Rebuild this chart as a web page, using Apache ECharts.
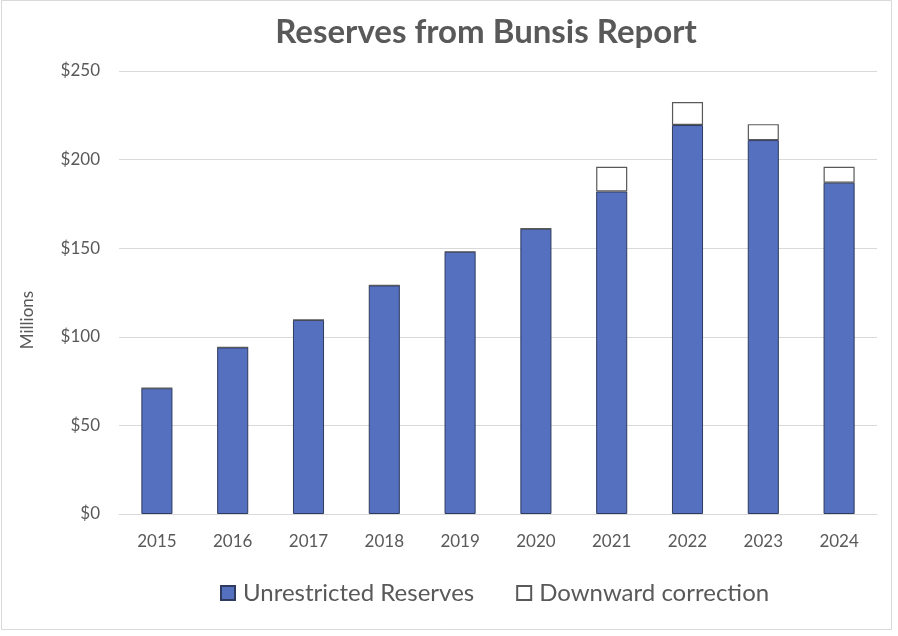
<!DOCTYPE html>
<html>
<head>
<meta charset="utf-8">
<script src="https://cdn.jsdelivr.net/npm/echarts@6/dist/echarts.min.js"></script>
<style>html,body{margin:0;padding:0;background:#fff}#c{width:898px;height:636px}</style>
</head>
<body>
<div id="c"></div>
<script>
const years = ['2015','2016','2017','2018','2019','2020','2021','2022','2023','2024'];
const unrestricted = [71, 94, 109.5, 129, 148, 161, 182, 219.5, 211, 187];
const correction = [0, 0, 0, 0, 0, 0, 14, 13, 9, 9];
const yTicks = [0, 50, 100, 150, 200, 250];

const chart = echarts.init(document.getElementById('c'), null, {renderer: 'canvas'});
const font = 'Lato, "Open Sans", sans-serif';
chart.setOption({
  animation: false,
  backgroundColor: '#fff',
  title: {
    text: 'Reserves from Bunsis Report',
    left: 481, top: 11, textAlign: 'center',
    textStyle: {fontFamily: font, fontWeight: 'bold', fontSize: 33, color: '#595959'}
  },
  graphic: [
    {type: 'rect', shape: {x: 1.5, y: 0.5, width: 890, height: 629}, style: {fill: 'none', stroke: '#d9d9d9', lineWidth: 1}},
    {type: 'text', x: 28, y: 320, rotation: Math.PI / 2,
     style: {text: 'Millions', fill: '#595959', font: '17px ' + font, textAlign: 'center', textVerticalAlign: 'middle'}}
  ],
  legend: {
    data: ['Unrestricted Reserves', 'Downward correction'],
    left: 215, top: 576,
    icon: 'rect', itemWidth: 14, itemHeight: 14, itemGap: 42,
    textStyle: {fontFamily: font, fontSize: 24, color: '#595959', padding: [0, 0, 0, 3]}
  },
  grid: {left: 119, right: 21, top: 71, bottom: 122},
  xAxis: {
    type: 'category', data: years,
    axisLine: {lineStyle: {color: '#d9d9d9'}},
    axisTick: {show: false},
    axisLabel: {fontFamily: font, fontSize: 17, color: '#595959', margin: 19}
  },
  yAxis: {
    type: 'value', min: 0, max: 250, interval: 50,
    axisLine: {show: false}, axisTick: {show: false},
    splitLine: {lineStyle: {color: '#d9d9d9'}},
    axisLabel: {fontFamily: font, fontSize: 17, color: '#595959', margin: 19,
      formatter: v => yTicks.includes(v) ? '$' + v : ''}
  },
  series: [
    {name: 'Unrestricted Reserves', type: 'bar', stack: 'a', data: unrestricted, barWidth: '41%',
     itemStyle: {color: '#5470BF', borderColor: '#2E3A5E', borderWidth: 1}},
    {name: 'Downward correction', type: 'bar', stack: 'a', data: correction, barWidth: '41%',
     itemStyle: {color: '#ffffff', borderColor: '#595959', borderWidth: 1.2}}
  ]
});
</script>
</body>
</html>
